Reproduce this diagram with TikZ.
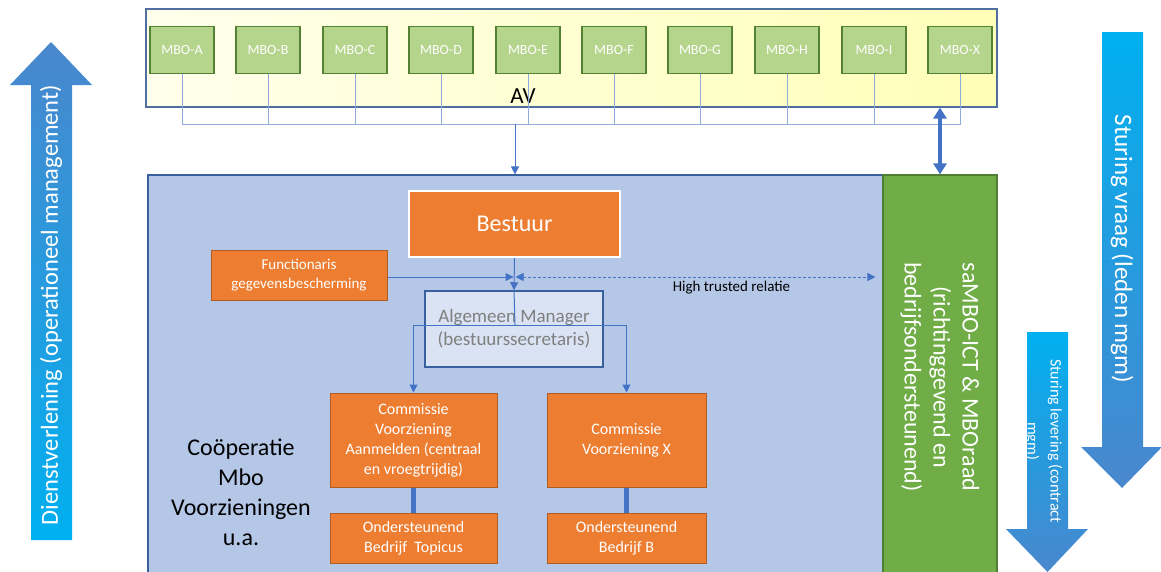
\documentclass[tikz,border=0pt]{standalone}
\usepackage{fontspec}
\setmainfont{Carlito}
\usetikzlibrary{arrows.meta}

\definecolor{orng}{HTML}{ED7D31}
\definecolor{orngline}{HTML}{B05C22}
\definecolor{coopfill}{HTML}{B4C7E7}
\definecolor{coopline}{HTML}{3A5F9E}
\definecolor{algfill}{HTML}{DAE3F3}
\definecolor{algtext}{HTML}{7F7F7F}
\definecolor{avleft}{HTML}{FFFFEC}
\definecolor{avright}{HTML}{FFFFB8}
\definecolor{avline}{HTML}{4F6F9F}
\definecolor{mbofill}{HTML}{B5D48C}
\definecolor{mboline}{HTML}{548235}
\definecolor{samfill}{HTML}{70AD47}
\definecolor{samline}{HTML}{507E32}
\definecolor{busblue}{HTML}{8FAADC}
\definecolor{linkblue}{HTML}{4472C4}
\definecolor{arrcyan}{HTML}{00B0F0}
\definecolor{arrblue}{HTML}{4A87CD}

\begin{document}
\begin{tikzpicture}[x=1pt,y=-1pt,
    mbo/.style={draw=mboline,fill=mbofill,line width=1.3pt,minimum width=64pt,minimum height=47pt,inner sep=0pt,text=white,font=\fontsize{14}{16}\selectfont},
    orangebox/.style={draw=orngline,fill=orng,line width=1pt,inner sep=0pt,text=white,align=center,font=\fontsize{16}{20}\selectfont},
    bus/.style={draw=busblue,line width=0.9pt},
    tip/.style={Triangle[length=8pt,width=8pt]},
    link/.style={draw=linkblue,line width=1pt,-{Triangle[length=8pt,width=8pt]}},
    thicklink/.style={draw=linkblue,line width=4.5pt},
    bigarrow/.style={draw=none},
    arrowtext/.style={text=white,font=\fontsize{24}{29}\selectfont}]
    \useasboundingbox (0,0) rectangle (1161,571);

    % draw AV frame and members
    \node[shade,left color=avleft,right color=avright,draw=avline,line width=1.2pt,minimum width=851pt,minimum height=98pt,inner sep=0pt] (av) at (571.5,58) {};
    \node[anchor=base,font=\fontsize{23}{23}\selectfont] (avlabel) at (523,103) {AV};
    \foreach \n/\x in {A/182,B/268,C/355,D/441,E/528,F/614,G/700,H/787,I/874,X/960}
    \node[mbo] (mbo\n) at (\x,50) {MBO-\n};

    % draw main boxes
    \node[fill=coopfill,draw=coopline,line width=1.2pt,minimum width=736pt,minimum height=400pt,inner sep=0pt] (coop) at (516,375) {};
    \node[fill=samfill,draw=samline,line width=1.2pt,minimum width=114pt,minimum height=400pt,inner sep=0pt] (sambo) at (940,375) {};
    \node[rotate=-90,align=center,arrowtext] (samtext) at (940,377) {saMBO-ICT \& MBOraad\\(richtinggevend en\\bedrijfsondersteunend)};

    % draw bus lines
    \coordinate (bus) at (0,124);
    \coordinate (split) at (515,325);
    \draw[bus] (mboA.south) -- (mboA.south |- bus) -- (mboX.south |- bus) -- (mboX.south);
    \foreach \n in {B,C,D,E,F,G,H,I}
    \draw[bus] (mbo\n.south) -- (mbo\n.south |- bus);

    % draw organisation boxes
    \node[fill=orng,draw=white,line width=2pt,minimum width=211pt,minimum height=66pt,text=white,font=\fontsize{24}{24}\selectfont] (bestuur) at (514.5,224) {Bestuur};
    \node[orangebox,minimum width=176pt,minimum height=50pt,font=\fontsize{15}{19.5}\selectfont] (func) at (299,275) {Functionaris\\gegevensbescherming};
    \node[fill=algfill,draw=coopline,line width=1.5pt,minimum width=178pt,minimum height=76pt,text=algtext,align=center,font=\fontsize{19}{23}\selectfont] (alg) at (514,329) {Algemeen Manager\\(bestuurssecretaris)};
    \node[orangebox,minimum width=167pt,minimum height=94pt] (comA) at (413.5,440) {Commissie\\Voorziening\\Aanmelden (centraal\\en vroegtrijdig)};
    \node[orangebox,minimum width=159pt,minimum height=94pt] (comX) at (626.5,440) {Commissie\\Voorziening X};
    \node[orangebox,minimum width=167pt,minimum height=50pt] (ondA) at (413.5,538) {Ondersteunend\\Bedrijf\ \ Topicus};
    \node[orangebox,minimum width=159pt,minimum height=50pt] (ondB) at (626.5,538) {Ondersteunend\\Bedrijf B};
    \node[align=center,font=\fontsize{24}{30}\selectfont] (cooptext) at (241,492) {Coöperatie\\Mbo\\Voorzieningen\\u.a.};

    % draw connectors
    \coordinate (junc) at (514.5,277);
    \draw[link] (515,124) -- (coop.north -| 515,0);
    \draw[linkblue,line width=4pt,{Triangle[length=11pt,width=13pt]}-{Triangle[length=11pt,width=13pt]}] (sambo.north |- av.south) -- (sambo.north);
    \draw[link] (bestuur.south) -- (alg.north);
    \draw[link] (func.east |- junc) -- ([xshift=-1pt]junc);
    \draw[draw=linkblue,line width=1pt,dash pattern=on 3pt off 2pt,{Triangle[length=8pt,width=8pt]}-{Triangle[length=8pt,width=8pt]}] ([xshift=1pt]junc) -- ([xshift=-7pt]junc -| sambo.west);
    \node[font=\fontsize{15}{15}\selectfont] (trust) at (731.5,288) {High trusted relatie};
    \draw[link,-] (alg.north) -- (split);
    \draw[link] (split) -| (comA.north);
    \draw[link] (split) -| (comX.north);
    \draw[thicklink] (comA.south) -- (ondA.north);
    \draw[thicklink] (comX.south) -- (ondB.north);

    % draw side arrows
    \shade[bigarrow,top color=arrblue,bottom color=arrcyan] (31,540) -- (31,85) -- (10,85) -- (51,42) -- (92,85) -- (72,85) -- (72,540) -- cycle;
    \node[rotate=90,arrowtext,font=\fontsize{24.5}{29}\selectfont] (dienst) at (51,305) {Dienstverlening (operationeel management)};
    \shade[bigarrow,top color=arrcyan,bottom color=arrblue] (1102,32) -- (1143,32) -- (1143,447) -- (1162,447) -- (1122,488) -- (1081,447) -- (1102,447) -- cycle;
    \node[rotate=-90,arrowtext,font=\fontsize{25}{29}\selectfont] (vraag) at (1122,249) {Sturing vraag (leden mgm)};
    \shade[bigarrow,top color=arrcyan,bottom color=arrblue] (1027,332) -- (1068,332) -- (1068,529) -- (1088,529) -- (1047.5,572) -- (1006,529) -- (1027,529) -- cycle;
    \node[rotate=-90,align=center,text=white,font=\fontsize{16}{23}\selectfont] (levering) at (1043.5,441) {Sturing levering (contract\\mgm)};
\end{tikzpicture}
\end{document}
